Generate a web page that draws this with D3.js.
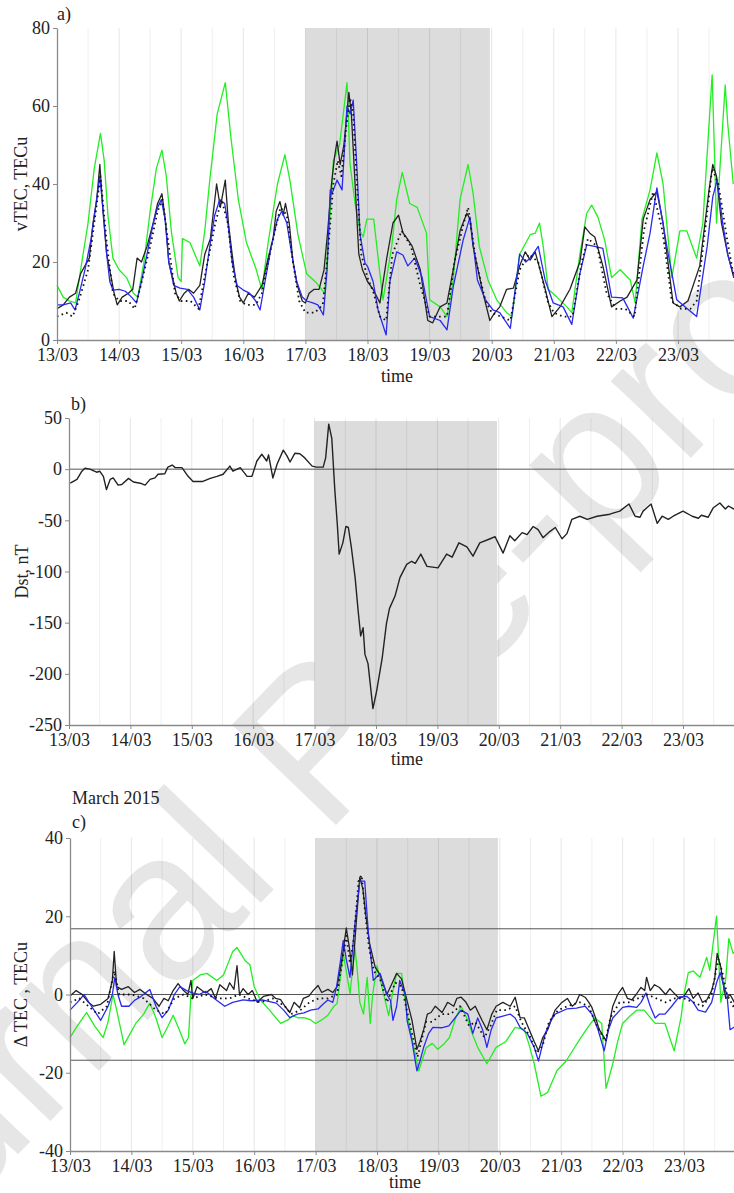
<!DOCTYPE html>
<html>
<head>
<meta charset="utf-8">
<script src="https://cdn.jsdelivr.net/npm/d3@7"></script>
<style>
  body { margin: 0; background: #fff; }
  text { font-family: "Liberation Serif", "Times New Roman", serif; }
</style>
</head>
<body>
<svg id="fig" width="734" height="1193"></svg>
<script>
// all times are in days counted from 13/03/2015 00 UT
var dayLabels = ["13/03","14/03","15/03","16/03","17/03","18/03","19/03","20/03","21/03","22/03","23/03"];
var stormStart = 4, stormEnd = 6.97;   // shaded storm interval

// ---- a) vTEC, TECu ----
var tecBlack = [[0,8],[0.1,9],[0.2,11],[0.3,12],[0.38,17],[0.45,19],[0.52,21],[0.58,30],[0.64,36],[0.69,45],[0.74,33],[0.8,22],[0.86,17],[0.92,12],[0.97,9],
  [1.05,11],[1.15,12],[1.22,13],[1.29,21],[1.36,20],[1.45,24],[1.55,30],[1.62,35],[1.69,37.5],[1.75,30],[1.8,20],[1.86,16],[1.92,12],[1.97,10],
  [2.05,12],[2.12,13],[2.2,12],[2.3,14],[2.38,22],[2.47,26],[2.52,33],[2.57,40],[2.63,34],[2.71,41],[2.76,30],[2.82,22],[2.88,15],[2.94,11],[3.0,9.5],
  [3.08,12],[3.18,11],[3.3,14],[3.4,21],[3.48,26],[3.53,33],[3.59,35.5],[3.64,32],[3.68,35],[3.74,30],[3.8,20],[3.87,14],[3.95,10],[4.0,9.5],
  [4.06,12],[4.14,13],[4.22,13],[4.3,18],[4.36,28],[4.42,40],[4.47,47],[4.51,51],[4.56,45],[4.62,50],[4.7,63.5],[4.74,58],[4.8,40],[4.86,22],[4.92,18],[5.0,15],
  [5.09,13],[5.2,9.5],[5.31,21],[5.41,30],[5.5,32],[5.57,27.5],[5.64,26],[5.72,24],[5.85,18],[5.97,5],[6.05,4.4],[6.17,8.5],[6.28,9.5],[6.38,18],[6.49,28],
  [6.6,32.5],[6.65,31],[6.7,24],[6.78,18],[6.86,12],[6.97,5],[7.05,7],[7.13,8.5],[7.24,13],[7.35,13.3],[7.45,19],[7.54,22.6],[7.62,20.5],[7.7,22.6],[7.83,15],
  [7.97,6],[8.1,8.5],[8.26,13],[8.42,20],[8.5,29],[8.58,27.4],[8.66,26.4],[8.79,19],[8.93,8.5],[9.07,10],[9.18,11],[9.34,15.4],[9.44,31],[9.55,36],[9.66,38],
  [9.76,30],[9.92,9.5],[10.03,8.5],[10.16,10],[10.35,19],[10.5,38.5],[10.56,45],[10.62,42],[10.7,30],[10.8,22],[10.9,16]];
var tecDotted = [[0,6],[0.15,7],[0.25,6],[0.35,10],[0.5,18],[0.6,30],[0.7,42],[0.8,25],[0.9,12],[1.0,10],[1.15,10],[1.25,8],[1.35,14],[1.5,24],[1.62,33],
  [1.7,36],[1.8,24],[1.9,12],[2.0,10],[2.15,10],[2.28,8],[2.4,18],[2.55,30],[2.65,36],[2.75,30],[2.85,16],[2.95,10],[3.05,9],[3.2,9],[3.3,12],[3.45,24],
  [3.6,34],[3.7,32],[3.8,20],[3.9,10],[4.0,7],[4.15,7],[4.28,9],[4.36,22],[4.45,40],[4.52,46],[4.58,42],[4.66,55],[4.72,62],[4.77,58],[4.83,40],[4.9,22],
  [5.0,16],[5.1,12],[5.2,6],[5.3,5],[5.4,22],[5.55,28],[5.7,24],[5.85,14],[6.0,6],[6.15,6],[6.28,6],[6.4,20],[6.55,30],[6.62,34],[6.75,20],[6.9,10],
  [7.0,7],[7.15,6],[7.3,5],[7.45,18],[7.6,22],[7.75,20],[7.9,10],[8.0,7],[8.15,6],[8.3,6],[8.45,20],[8.55,26],[8.7,24],[8.85,12],[9.0,8],[9.15,8],
  [9.3,6],[9.45,28],[9.6,38],[9.75,28],[9.9,10],[10.05,8],[10.2,8],[10.3,10],[10.45,30],[10.55,44],[10.65,40],[10.8,25],[10.9,16]];
var tecBlue = [[0,9],[0.1,9],[0.22,9.5],[0.29,7.7],[0.36,12],[0.45,18],[0.55,26],[0.62,34],[0.69,42],[0.75,32],[0.8,22],[0.85,15],[0.9,12.8],[1.0,13],
  [1.1,12.5],[1.2,11],[1.28,9.5],[1.36,15],[1.45,22],[1.55,30],[1.62,34],[1.68,36],[1.74,31],[1.8,20],[1.88,14],[1.98,13.3],[2.1,13],[2.2,11],[2.3,7.7],
  [2.38,15],[2.46,24],[2.54,32],[2.62,36],[2.7,35],[2.76,29],[2.82,20],[2.9,14],[3.0,12.8],[3.1,12],[3.2,10],[3.27,7.7],[3.35,15],[3.45,24],[3.55,31],
  [3.62,33],[3.7,30],[3.78,22],[3.86,15],[3.95,11],[4.02,10],[4.12,9.5],[4.2,9],[4.29,6.4],[4.35,18],[4.4,38.5],[4.43,37.6],[4.51,41],[4.59,38.5],
  [4.67,60],[4.72,58],[4.77,61.5],[4.83,44],[4.88,27],[4.96,19.7],[5.0,18.9],[5.09,15],[5.17,7.7],[5.3,1.3],[5.36,15],[5.47,22.6],[5.57,21.8],[5.65,19],
  [5.76,21],[5.88,16],[6.0,6],[6.17,5],[6.28,2.6],[6.38,13.6],[6.54,25.6],[6.65,31.5],[6.77,15.4],[6.9,10.3],[7.02,7.7],[7.13,7],[7.3,3],[7.45,22],
  [7.55,20],[7.62,21],[7.75,24],[7.86,15.4],[7.99,9.5],[8.15,8.5],[8.29,4],[8.42,17],[8.53,24.4],[8.66,24],[8.79,23.5],[8.93,11],[9.11,10.8],[9.28,5.6],
  [9.44,19],[9.55,27.4],[9.66,39],[9.82,24],[9.98,10.3],[10.15,8],[10.3,6],[10.47,24],[10.56,36.7],[10.63,41],[10.72,30],[10.8,22],[10.9,16]];
var tecGreen = [[0,14],[0.1,11],[0.2,10],[0.3,9.5],[0.4,20],[0.5,30],[0.6,44],[0.7,53],[0.76,46],[0.82,32],[0.9,21],[1.0,18],[1.12,16],[1.23,12],[1.3,11],
  [1.4,20],[1.5,33],[1.6,44],[1.69,48.7],[1.76,42],[1.84,28],[1.95,16],[2.0,15],[2.02,26],[2.14,25],[2.3,19],[2.38,28],[2.46,41],[2.58,58],[2.71,66],
  [2.8,52],[2.92,36],[3.05,25],[3.21,18],[3.3,12.8],[3.4,25],[3.55,40],[3.67,47.5],[3.75,41],[3.88,27],[4.02,17],[4.18,14.6],[4.31,12],[4.4,32.6],
  [4.45,46],[4.55,50],[4.67,66],[4.72,45],[4.8,35],[4.88,28],[4.93,26.4],[4.99,31],[5.1,31],[5.2,17],[5.25,10.3],[5.39,24],[5.47,36],[5.56,43],
  [5.68,35],[5.8,34],[5.95,27.4],[6.0,10.3],[6.17,8.5],[6.28,6],[6.38,15.4],[6.49,36],[6.62,45],[6.7,37.6],[6.8,24],[6.94,15.4],[7.08,10.3],[7.24,7],
  [7.33,6],[7.45,22],[7.62,27],[7.7,27.4],[7.77,30],[7.83,24],[7.91,13],[8.05,11],[8.21,8.5],[8.29,7],[8.42,22],[8.53,32.5],[8.61,34.6],[8.71,31.5],
  [8.82,25.6],[8.93,16],[9.07,18],[9.23,15.4],[9.31,9.5],[9.42,31],[9.55,38.5],[9.66,48],[9.76,40],[9.9,16],[10.03,28],[10.14,28],[10.3,21],[10.4,30],
  [10.55,68],[10.62,30],[10.76,65.4],[10.8,55.6],[10.89,40]];

// ---- b) Dst, nT ----
var dst = [[0.02,-13.7],[0.13,-10],[0.21,-2],[0.26,1],[0.34,0],[0.45,-3],[0.5,-2],[0.56,-7],[0.61,-20],[0.67,-10],[0.72,-8.5],[0.8,-15.6],[0.86,-15],
  [0.97,-9],[1.05,-12.6],[1.16,-13.7],[1.24,-15.6],[1.32,-10],[1.4,-8.5],[1.45,-5],[1.56,-4.5],[1.61,2],[1.68,4],[1.73,1.5],[1.84,1.5],[1.94,-7],
  [2.02,-12],[2.18,-12],[2.3,-9],[2.41,-7],[2.51,-5],[2.62,3],[2.67,-2],[2.79,1.5],[2.9,-7],[2.98,-7],[3.06,8],[3.14,14.6],[3.22,8],[3.25,14],
  [3.32,-8.6],[3.39,5],[3.49,18.6],[3.55,13],[3.6,7],[3.68,15.6],[3.76,15],[3.84,11],[3.96,3],[4.03,2],[4.14,2],[4.18,11],[4.23,44],[4.28,30],
  [4.33,-21],[4.37,-54],[4.4,-83],[4.46,-72],[4.51,-56],[4.55,-57],[4.6,-77],[4.66,-106],[4.71,-139],[4.75,-163],[4.79,-155],[4.82,-181],[4.87,-190],
  [4.95,-234],[5.01,-217],[5.1,-185],[5.17,-151],[5.22,-136],[5.31,-124],[5.39,-106],[5.5,-93],[5.58,-90],[5.64,-92],[5.73,-83],[5.83,-95],[6.01,-96.5],
  [6.15,-83],[6.24,-86],[6.35,-72],[6.48,-76],[6.58,-85],[6.69,-72],[6.86,-68],[6.94,-66],[7.07,-82],[7.18,-65],[7.26,-70],[7.38,-62],[7.46,-64],
  [7.56,-56],[7.64,-59],[7.72,-67],[7.83,-61],[7.92,-57],[8.03,-68],[8.11,-63],[8.19,-49],[8.32,-46],[8.44,-49],[8.6,-46],[8.81,-44],[8.86,-43],
  [8.97,-41],[9.12,-34],[9.22,-46],[9.3,-47],[9.35,-41],[9.48,-34],[9.58,-53],[9.66,-46],[9.76,-49],[9.84,-46],[10.0,-41],[10.15,-46],[10.25,-48],
  [10.3,-45],[10.41,-47],[10.49,-38],[10.6,-33],[10.69,-39],[10.74,-36],[10.83,-39],[10.9,-36]];

// ---- c) delta TEC, TECu ----
var dtecLevels = [-16.8, 0, 16.8];
var dtecBlack = [[0,-0.4],[0.1,1],[0.2,0],[0.3,-2],[0.38,-3],[0.5,-2.5],[0.62,-1],[0.69,3.6],[0.72,11],[0.76,2],[0.84,1.3],[0.95,2],[1.05,0.5],[1.14,1.3],
  [1.25,0],[1.35,-1],[1.45,-3],[1.53,-1],[1.6,-1.6],[1.68,1],[1.76,2.8],[1.85,1],[1.92,0],[1.97,3.6],[2.0,-1],[2.07,2],[2.15,1],[2.21,0.4],[2.3,1.5],
  [2.37,-1],[2.44,2.5],[2.55,1],[2.6,3],[2.67,1.3],[2.72,7.4],[2.76,0],[2.82,1.5],[2.9,0],[2.97,1],[3.05,-2],[3.15,-0.5],[3.28,0],[3.35,-1],[3.43,-1.3],
  [3.5,-3],[3.58,-4.6],[3.65,-2],[3.74,-3.4],[3.8,-1],[3.89,-0.4],[3.96,1],[4.04,2.3],[4.1,0.5],[4.2,1.3],[4.28,0.5],[4.35,2],[4.42,8],[4.5,17],[4.55,12],
  [4.6,5],[4.66,18],[4.72,30],[4.77,27],[4.82,20],[4.88,13],[4.97,7],[5.05,5],[5.16,0],[5.25,3],[5.32,5.4],[5.4,4],[5.48,-1],[5.57,-6.6],[5.65,-14],
  [5.7,-12],[5.76,-9],[5.82,-5],[5.88,-4.6],[5.95,-3],[6.06,-4.6],[6.15,-2],[6.25,-3],[6.3,-1],[6.37,-0.7],[6.45,-2],[6.52,-4],[6.6,-3],[6.71,-6.6],
  [6.79,-9],[6.87,-5],[6.94,-3],[7.05,-2],[7.17,-3],[7.25,-0.7],[7.33,-5.9],[7.4,-6],[7.48,-9],[7.56,-12],[7.63,-14.4],[7.7,-11],[7.78,-9],[7.85,-6],
  [7.9,-4],[8.0,-2.2],[8.1,-1],[8.18,-3],[8.24,-2.2],[8.3,0],[8.39,-0.7],[8.45,-2],[8.5,-3.3],[8.56,-6],[8.62,-9],[8.73,-11.8],[8.84,-3],[8.92,0],
  [9.0,1.8],[9.08,-1],[9.15,-1.4],[9.22,0],[9.3,1.8],[9.36,1],[9.39,4.4],[9.45,1],[9.52,2.5],[9.6,1.8],[9.7,0],[9.77,1.5],[9.84,0.3],[9.92,-1],
  [10.0,-0.4],[10.08,1.5],[10.15,-1],[10.23,0.4],[10.3,-2],[10.37,-1.4],[10.45,1],[10.5,4],[10.54,10.5],[10.6,7],[10.63,3.6],[10.68,-1],[10.75,0],
  [10.82,-2],[10.9,1]];
var dtecDotted = [[0,-2],[0.15,-1],[0.3,-3],[0.45,-5],[0.6,-3],[0.72,6],[0.8,0],[1.0,0],[1.2,-1],[1.4,-4],[1.55,-5],[1.7,-1],[1.85,0],[2.0,-1],[2.2,0],
  [2.4,-1],[2.6,-1],[2.75,0],[2.9,-1],[3.1,-2],[3.3,-1],[3.5,-3],[3.6,-5],[3.75,-4],[3.9,-2],[4.05,-1],[4.2,-1],[4.35,0],[4.45,10],[4.5,15],[4.56,8],
  [4.62,14],[4.7,29],[4.75,30.5],[4.8,22],[4.87,12],[4.95,6],[5.05,4],[5.16,-2],[5.3,3],[5.4,2],[5.5,-5],[5.6,-12],[5.66,-16],[5.72,-12],[5.8,-7],
  [5.9,-7],[6.05,-5],[6.2,-5],[6.35,-3],[6.5,-8],[6.6,-7],[6.75,-11],[6.85,-8],[6.95,-4],[7.1,-4],[7.25,-3],[7.35,-7],[7.5,-11],[7.6,-15],[7.7,-13],
  [7.8,-7],[7.95,-4],[8.1,-3],[8.3,-2],[8.45,-3],[8.55,-7],[8.65,-10],[8.72,-12],[8.8,-6],[8.95,-2],[9.1,-2],[9.25,-1],[9.4,0],[9.55,-1],[9.7,-2],
  [9.85,-1],[10.0,-1],[10.15,-2],[10.3,-3],[10.45,0],[10.52,6],[10.56,9],[10.62,6],[10.7,0],[10.8,-3],[10.9,-1]];
var dtecBlue = [[0,-4],[0.12,-2],[0.23,0],[0.35,-3],[0.5,-6.6],[0.62,-3],[0.69,0],[0.73,4.4],[0.78,0],[0.84,-3],[0.96,-3],[1.05,-1.5],[1.14,-0.7],
  [1.3,1.3],[1.4,-3],[1.5,-5.9],[1.6,-4],[1.7,0],[1.79,2],[1.9,1],[1.99,0.4],[2.1,0],[2.21,0.8],[2.35,-1],[2.52,-3],[2.65,-2],[2.82,-1.4],[2.95,-1.6],
  [3.13,-1.4],[3.25,-1.8],[3.36,-2.2],[3.48,-4],[3.58,-5.9],[3.7,-5],[3.81,-4.7],[3.92,-4],[4.04,-3.7],[4.12,-2.5],[4.2,-1.4],[4.28,-2],[4.34,1.8],
  [4.4,8],[4.45,13.8],[4.5,9],[4.56,4.4],[4.64,18],[4.72,29],[4.8,29],[4.86,15.6],[4.94,3.6],[5.05,5.4],[5.16,0],[5.22,-1.5],[5.26,-6.6],[5.32,-3],
  [5.37,3.6],[5.46,0],[5.49,-6.6],[5.57,-12],[5.65,-19.5],[5.7,-17],[5.76,-13.5],[5.84,-10],[5.91,-8.4],[6.05,-8.5],[6.17,-8],[6.27,-6],[6.37,-4],
  [6.48,-5],[6.56,-10],[6.64,-6],[6.72,-9],[6.79,-13.5],[6.86,-9],[6.94,-6],[7.05,-5.5],[7.17,-5],[7.25,-6],[7.33,-8.4],[7.45,-10],[7.56,-13.5],
  [7.63,-17],[7.74,-10],[7.82,-7],[7.9,-5],[8.09,-3.7],[8.25,-3.5],[8.39,-3],[8.5,-5],[8.6,-9],[8.7,-14.4],[8.77,-9],[8.84,-6],[9.0,-3.3],[9.1,-3],
  [9.23,-3.3],[9.3,-2],[9.38,0.4],[9.45,-3],[9.53,-6],[9.6,-5],[9.69,-5],[9.8,-3],[9.92,-0.6],[10.05,-0.5],[10.15,-2],[10.23,-4],[10.35,-4.5],
  [10.45,-2],[10.53,3],[10.59,5.6],[10.65,2],[10.7,0],[10.75,-9],[10.85,-8],[10.9,-10]];
var dtecGreen = [[0,-11],[0.12,-8],[0.27,-4.6],[0.4,-8],[0.54,-11],[0.62,-7],[0.7,0],[0.76,-4],[0.88,-12.8],[0.98,-10],[1.07,-7.4],[1.2,-5],[1.3,-2.2],
  [1.4,-6],[1.5,-11],[1.6,-8],[1.68,-5.3],[1.78,-9],[1.87,-12.6],[1.93,-11],[1.97,0],[2.0,3.6],[2.12,5],[2.23,5.4],[2.39,3.6],[2.5,5],[2.55,7],[2.65,11],
  [2.72,12],[2.8,10],[2.85,8.7],[2.93,7.6],[3.0,2],[3.1,-1.4],[3.25,-4],[3.43,-7.4],[3.55,-6.5],[3.63,-5.4],[3.72,-6],[3.81,-5.9],[3.92,-6.5],[4.0,-7.4],
  [4.1,-6.5],[4.2,-5.3],[4.3,-3],[4.35,-2.3],[4.4,4],[4.45,10.5],[4.5,6],[4.56,0.2],[4.6,6],[4.64,12],[4.68,6],[4.72,-2],[4.78,-5],[4.84,4.4],[4.89,-7.4],
  [4.93,0],[5.0,7.4],[5.08,2],[5.19,-5.4],[5.26,1],[5.32,5.4],[5.4,5.4],[5.49,-5],[5.58,-12],[5.68,-19.5],[5.8,-13.6],[5.9,-12.5],[5.99,-14],[6.1,-12.5],
  [6.18,-11],[6.28,-6],[6.37,-3],[6.48,-6.6],[6.55,-10],[6.64,-13.5],[6.79,-17.7],[6.94,-13.5],[7.1,-12],[7.25,-8.4],[7.4,-9],[7.48,-13],[7.56,-17.7],
  [7.67,-26],[7.78,-25],[7.93,-19.5],[8.08,-17],[8.2,-14],[8.32,-11],[8.45,-8],[8.55,-6],[8.66,-7.4],[8.73,-24],[8.84,-17.7],[8.92,-12],[9.0,-7.4],
  [9.12,-5.5],[9.23,-4],[9.35,-4],[9.53,-7.4],[9.69,-7.4],[9.84,-14.4],[9.95,-6],[10.0,0],[10.07,5.6],[10.15,6],[10.26,4.4],[10.37,9.5],[10.42,6.2],
  [10.53,20],[10.6,-2],[10.68,4],[10.73,14.3],[10.8,10.5],[10.9,12]];

var svg = d3.select("#fig");
var W = 734;
var serif = "'Liberation Serif', 'Times New Roman', serif";

// watermark of the journal, behind everything
svg.append("text")
  .attr("transform", "translate(-195,1375) rotate(-46)")
  .style("font-family", "'Liberation Sans', Arial, sans-serif")
  .style("font-size", "210px")
  .style("fill", "#e6e6e6")
  .text("Journal Pre-proof");

// draws one panel
var drawPanel = function(p){
  var x = d3.scaleLinear().domain([0, 11]).range([p.x0, p.x0 + 11 * p.perDay]);
  var y = d3.scaleLinear().domain(p.yDomain).range([p.yBottom, p.yTop]);
  var g = svg.append("g");

  // storm shade
  g.append("rect")
    .attr("x", x(stormStart)).attr("width", x(stormEnd) - x(stormStart))
    .attr("y", y(p.shadeTop)).attr("height", p.yBottom - y(p.shadeTop))
    .style("fill", "#dcdcdc");

  // light vertical grid every 12 h
  g.selectAll(".grid").data(d3.range(0.5, 11.01, 0.5)).enter().append("line")
    .attr("x1", function(d){ return x(d); }).attr("x2", function(d){ return x(d); })
    .attr("y1", p.yTop).attr("y2", p.yBottom)
    .style("stroke", "#000")
    .style("stroke-opacity", function(d){ return d % 1 == 0 ? 0.1 : 0.065; })
    .style("stroke-width", 1);

  // reference levels
  (p.levels || []).forEach(function(v){
    g.append("line").attr("x1", p.x0).attr("x2", W)
      .attr("y1", y(v)).attr("y2", y(v))
      .style("stroke", "#555").style("stroke-width", 1);
  });

  var line = d3.line().x(function(d){ return x(d[0]); }).y(function(d){ return y(d[1]); });
  p.series.forEach(function(s){
    g.append("path").datum(s.data).attr("d", line)
      .style("fill", "none").style("stroke", s.color)
      .style("stroke-width", s.width || 1.3)
      .style("stroke-dasharray", s.dash || null)
      .style("stroke-linejoin", "round");
  });

  // axes
  var xAxis = g.append("g").attr("transform", "translate(0," + p.yBottom + ")")
    .call(d3.axisBottom(x).tickValues(d3.range(0, 11)).tickFormat(function(d){ return dayLabels[d]; })
      .tickSize(4).tickSizeOuter(0).tickPadding(4));
  var yAxis = g.append("g").attr("transform", "translate(" + p.x0 + ",0)")
    .call(d3.axisLeft(y).tickValues(p.yTicks).tickFormat(function(d){ return String(d); })
      .tickSize(4).tickSizeOuter(0).tickPadding(3));
  [xAxis, yAxis].forEach(function(a){
    a.attr("font-family", serif).attr("font-size", 18);
    a.select(".domain").style("stroke", "#8a8a8a").style("stroke-width", 1.3);
    a.selectAll(".tick line").style("stroke", "#8a8a8a");
    a.selectAll("text").style("font-family", serif)
      .style("font-size", "18px").style("fill", "#222");
  });

  // labels
  g.append("text").attr("x", p.titleX).attr("y", p.titleY)
    .style("font-size", "18px").style("fill", "#222").text(p.title);
  g.append("text").attr("x", p.timeX).attr("y", p.yBottom + p.timeDy)
    .attr("text-anchor", "middle")
    .style("font-size", "18px").style("fill", "#222").text("time");
  g.append("text")
    .attr("transform", "translate(" + p.yLabelX + "," + ((p.yTop + p.yBottom) / 2) + ") rotate(-90)")
    .attr("text-anchor", "middle")
    .style("font-size", "18px").style("fill", "#222").text(p.yLabel);
};

drawPanel({
  x0: 57, perDay: 62.1, yDomain: [0, 80], yTop: 28, yBottom: 340, shadeTop: 80,
  yTicks: [0, 20, 40, 60, 80], title: "a)", titleX: 57, titleY: 20, timeX: 397, timeDy: 42,
  yLabel: "vTEC, TECu", yLabelX: 27,
  series: [
    {data: tecGreen, color: "#22ee22"},
    {data: tecBlack, color: "#222"},
    {data: tecBlue, color: "#2a2aee"},
    {data: tecDotted, color: "#111", dash: "1.6,3.4", width: 1.8}
  ]
});

drawPanel({
  x0: 69, perDay: 61.4, yDomain: [-250, 50], yTop: 418, yBottom: 725, shadeTop: 47,
  yTicks: [-250, -200, -150, -100, -50, 0, 50], title: "b)", titleX: 71, titleY: 410, timeX: 407, timeDy: 40,
  yLabel: "Dst, nT", yLabelX: 28, levels: [0],
  series: [{data: dst, color: "#222", width: 1.4}]
});

drawPanel({
  x0: 70, perDay: 61.4, yDomain: [-40, 40], yTop: 838, yBottom: 1151, shadeTop: 40,
  yTicks: [-40, -20, 0, 20, 40], title: "c)", titleX: 72, titleY: 828, timeX: 405, timeDy: 37,
  yLabel: "\u0394 TEC , TECu", yLabelX: 27, levels: dtecLevels,
  series: [
    {data: dtecGreen, color: "#22ee22"},
    {data: dtecBlack, color: "#222"},
    {data: dtecBlue, color: "#2a2aee"},
    {data: dtecDotted, color: "#111", dash: "1.6,3.4", width: 1.8}
  ]
});

svg.append("text").attr("x", 72).attr("y", 804)
  .style("font-size", "18px").style("fill", "#222").text("March 2015");
</script>
</body>
</html>
